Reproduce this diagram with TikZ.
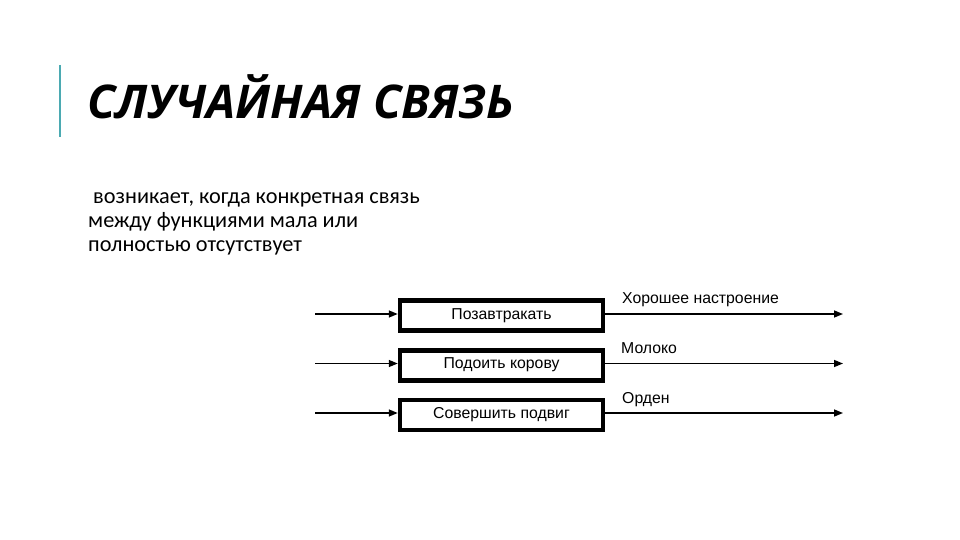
\documentclass[tikz,border=0pt]{standalone}
\usepackage{fontspec}
\setmainfont{Liberation Sans}
\newfontfamily\bodyfont{Carlito}
\newfontfamily\titlefont{Open Sans}
\usetikzlibrary{arrows.meta}
\definecolor{accent}{RGB}{75,170,178}
\tikzset{
  funcbox/.style={draw=black, line width=4.5pt, minimum width=203pt, minimum height=30pt, inner sep=0pt},
  boxtext/.style={font=\fontsize{15.8}{17}\selectfont, anchor=base, inner sep=0pt},
  outlabel/.style={font=\fontsize{15.8}{17}\selectfont, anchor=base west, inner sep=0pt},
  flow/.style={line width=1.5pt, -{Triangle[length=9pt,width=7pt]}},
}
\begin{document}
\begin{tikzpicture}[x=1pt,y=-1pt]
\useasboundingbox (0,0) rectangle (960,540);
% accent bar
\coordinate (bartop) at (60,65);
\coordinate (barbot) at (60,137);
\draw[accent, line width=2.5pt] (bartop) -- (barbot);
% title
\node[anchor=base west, inner sep=0pt, font=\titlefont\bfseries\itshape\fontsize{46.4}{50}\selectfont] (title) at (87,119) {СЛУЧАЙНАЯ СВЯЗЬ};
% body
\node[anchor=base west, inner sep=0pt, align=left, font=\bodyfont\fontsize{22.3}{24}\selectfont] (body) at (88,251)
  {\ возникает, когда конкретная связь\\между функциями мала или\\полностью отсутствует};
% boxes
\node[funcbox] (b1) at (501.5,315.5) {};
\node[funcbox] (b2) at (501.5,365.5) {};
\node[funcbox] (b3) at (501.5,415) {};
\node[boxtext] (t1) at (501.5,319) {Позавтракать};
\node[boxtext] (t2) at (501.5,368.5) {Подоить корову};
\node[boxtext] (t3) at (501.5,418.5) {Совершить подвиг};
% inputs / outputs
\coordinate (i1) at (315,314);
\coordinate (i2) at (315,363.5);
\coordinate (i3) at (315,413);
\coordinate (o1) at (843,314);
\coordinate (o2) at (843,363.5);
\coordinate (o3) at (843,413);
\draw[flow] (i1) -- (i1 -| b1.west);
\draw[flow] (i2) -- (i2 -| b2.west);
\draw[flow] (i3) -- (i3 -| b3.west);
\draw[flow] (o1 -| b1.east) -- (o1);
\draw[flow] (o2 -| b2.east) -- (o2);
\draw[flow] (o3 -| b3.east) -- (o3);
% output labels
\node[outlabel] (l1) at (622,303) {Хорошее настроение};
\node[outlabel] (l2) at (621,353) {Молоко};
\node[outlabel] (l3) at (622,403) {Орден};
\end{tikzpicture}
\end{document}
